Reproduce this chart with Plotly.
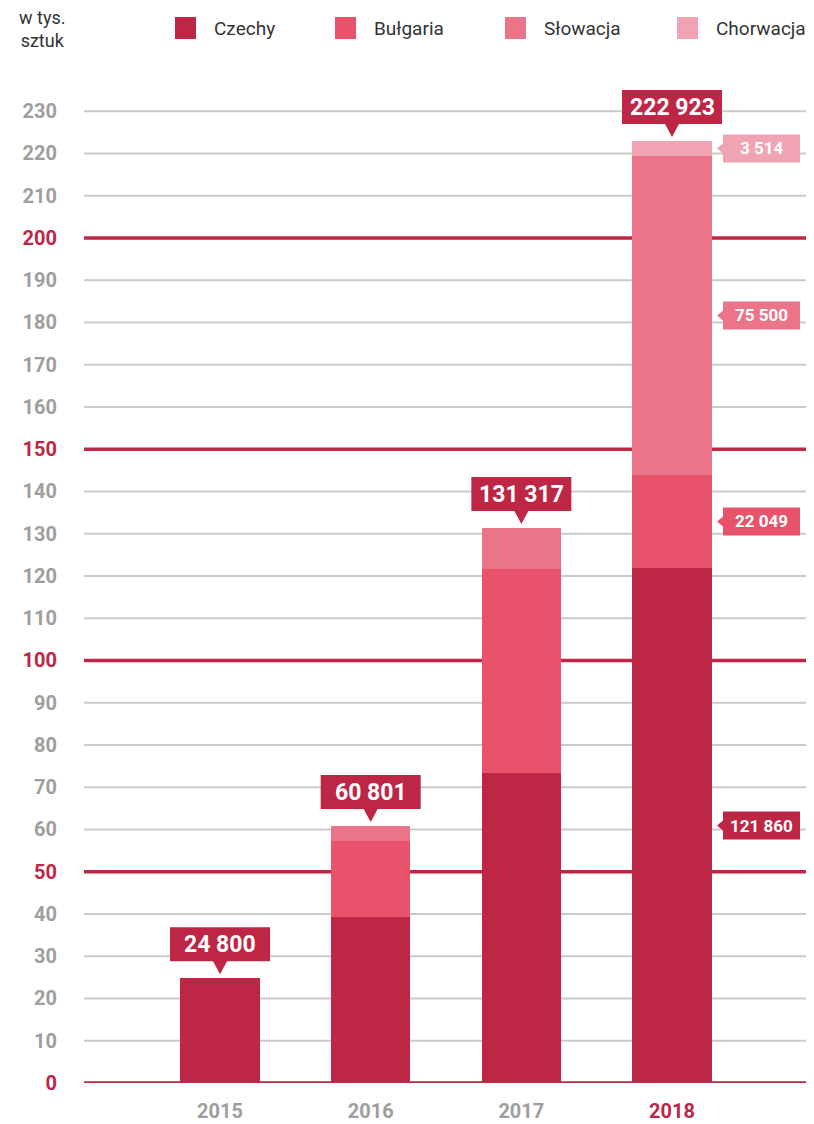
import plotly.graph_objects as go

years = ["2015", "2016", "2017", "2018"]
series_names = ["Czechy", "Bułgaria", "Słowacja", "Chorwacja"]
czechy = [24.8, 39.4, 73.4, 121.86]
bulgaria = [0, 17.9, 48.15, 22.049]
slowacja = [0, 3.501, 9.767, 75.5]
chorwacja = [0, 0, 0, 3.514]
colors = ["#BE2645", "#E8536B", "#EC7489", "#F0A3B3"]
y_ticks = list(range(0, 240, 10))
red_ticks = [0, 50, 100, 150, 200]

RED = "#BE2645"
GRAY = "#9E9E9E"
FONT_B = "Roboto, Liberation Sans, sans-serif"

series_vals = [czechy, bulgaria, slowacja, chorwacja]
xs = list(range(len(years)))

fig = go.Figure()
for name, vals, col in zip(series_names, series_vals, colors):
    fig.add_trace(go.Bar(x=xs, y=vals, name=name, marker=dict(color=col, line=dict(width=0)),
                         width=0.525, showlegend=False, hoverinfo="skip"))

def fmt(v):
    return f"{round(v * 1000):,}".replace(",", " ")

totals = [sum(s[i] for s in series_vals) for i in xs]

annotations = []
shapes = []

# grid lines
for v in y_ticks:
    if v in red_ticks:
        shapes.append(dict(type="line", xref="paper", x0=0, x1=1, yref="y", y0=v, y1=v,
                           line=dict(color=RED, width=3.5), layer="below"))
    else:
        shapes.append(dict(type="line", xref="paper", x0=0, x1=1, yref="y", y0=v, y1=v,
                           line=dict(color="#C9CACA", width=2), layer="below"))

# total callouts
for i, t in zip(xs, totals):
    shapes.append(dict(type="path", xref="x", yref="y", xsizemode="pixel", ysizemode="pixel",
                       xanchor=i, yanchor=t,
                       path="M-50,17 L-7,17 L0,4 L7,17 L50,17 L50,51 L-50,51 Z",
                       fillcolor=RED, line=dict(width=0), layer="above"))
    annotations.append(dict(x=i, y=t, xref="x", yref="y", yshift=34, showarrow=False,
                            text=f"<b>{fmt(t)}</b>", font=dict(family=FONT_B, size=23, color="white"),
                            xanchor="center", yanchor="middle"))

# side labels for last year
last = len(years) - 1
base = 0
for vals, col in zip(series_vals, colors):
    v = vals[last]
    mid = base + v / 2
    base += v
    shapes.append(dict(type="path", xref="x", yref="y", xsizemode="pixel", ysizemode="pixel",
                       xanchor=last, yanchor=mid,
                       path="M51,-14 L128,-14 L128,14 L51,14 L51,5 L45,0 L51,-5 Z",
                       fillcolor=col, line=dict(width=0), layer="above"))
    annotations.append(dict(x=last, y=mid, xref="x", yref="y", xshift=89.5, showarrow=False,
                            text=f"<b>{fmt(v)}</b>", font=dict(family=FONT_B, size=17, color="white"),
                            xanchor="center", yanchor="middle"))

# legend (manual); page pixel -> paper coordinates
def px_x(p):
    return (p - 84) / 726

def px_y(p):
    return (1083 - p) / 993

leg_sq = [175, 335, 505, 677]
for name, col, sx in zip(series_names, colors, leg_sq):
    shapes.append(dict(type="rect", xref="paper", yref="paper",
                       x0=px_x(sx), x1=px_x(sx + 21), y0=px_y(39), y1=px_y(17),
                       fillcolor=col, line=dict(width=0)))
    annotations.append(dict(x=px_x(sx + 37), y=px_y(28), xref="paper", yref="paper",
                            text=name, showarrow=False, xanchor="left", yanchor="middle",
                            font=dict(family=FONT_B, size=19, color="#333333")))

annotations.append(dict(x=px_x(42), y=px_y(29), xref="paper", yref="paper",
                        text="w tys.<br>sztuk", showarrow=False, xanchor="center", yanchor="middle",
                        font=dict(family=FONT_B, size=18, color="#333333")))

ytext = [f"<b><span style='color:{RED if v in red_ticks else GRAY}'>{v}</span></b>" for v in y_ticks]
xtext = [f"<b><span style='color:{RED if i == last else GRAY}'>{y}</span></b>" for i, y in zip(xs, years)]

# page has an 8px body margin; figure sized to fit the window
fig.update_layout(
    barmode="stack",
    width=806, height=1116,
    margin=dict(l=76, r=4, t=82, b=41),
    plot_bgcolor="white", paper_bgcolor="white",
    showlegend=False,
    xaxis=dict(range=[-0.903, 3.916], tickvals=xs, ticktext=xtext, showgrid=False, zeroline=False,
               showline=False, ticks="", ticklabelstandoff=14, automargin=False,
               tickfont=dict(family=FONT_B, size=20, color=GRAY)),
    yaxis=dict(range=[0, 235], tickvals=y_ticks, ticktext=ytext, showgrid=False,
               zeroline=False, showline=False, ticks="", ticklabelstandoff=26, automargin=False,
               tickfont=dict(family=FONT_B, size=20, color=GRAY)),
    shapes=shapes,
    annotations=annotations,
)

fig.write_html("out.html")
